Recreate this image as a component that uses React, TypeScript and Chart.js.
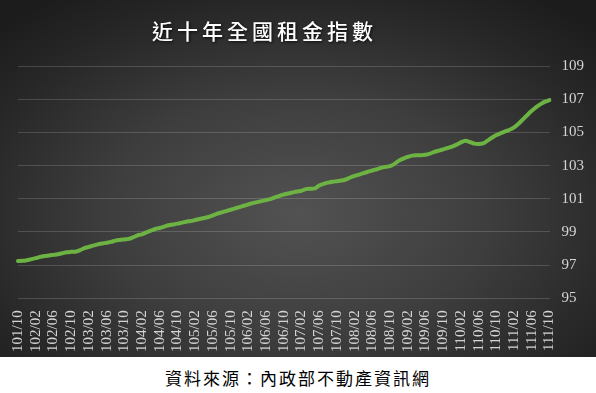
import React, { useEffect, useRef } from "react";
import { Chart, registerables } from "chart.js";

Chart.register(...registerables);

const chartTitle = "近十年全國租金指數";
const sourceNote = "資料來源：內政部不動產資訊網";

// monthly periods (ROC year / month), 101/10 .. 111/10
const months: string[] = [];
for (let y = 101, m = 10; months.length < 121; ) {
  months.push(`${y}/${String(m).padStart(2, "0")}`);
  m++;
  if (m > 12) { m = 1; y++; }
}

const rentIndex = [
  97.25, 97.26, 97.30, 97.36, 97.42, 97.50, 97.55, 97.58, 97.62, 97.66, 97.72, 97.78, 97.80,
  97.81, 97.90, 98.02, 98.10, 98.18, 98.25, 98.30, 98.35, 98.40, 98.48, 98.52, 98.55, 98.58,
  98.68, 98.80, 98.86, 98.98, 99.08, 99.18, 99.24, 99.32, 99.40, 99.45, 99.50, 99.56, 99.62,
  99.66, 99.72, 99.78, 99.84, 99.90, 100.00, 100.10, 100.18, 100.26, 100.34, 100.42, 100.50,
  100.58, 100.66, 100.74, 100.80, 100.86, 100.92, 100.98, 101.08, 101.18, 101.26, 101.32,
  101.38, 101.44, 101.48, 101.58, 101.60, 101.62, 101.80, 101.90, 101.97, 102.02, 102.06,
  102.10, 102.16, 102.28, 102.38, 102.46, 102.55, 102.63, 102.70, 102.78, 102.86, 102.92,
  102.97, 103.10, 103.30, 103.42, 103.52, 103.60, 103.62, 103.62, 103.65, 103.72, 103.82,
  103.90, 103.98, 104.06, 104.14, 104.26, 104.40, 104.50, 104.42, 104.32, 104.30, 104.34,
  104.50, 104.68, 104.84, 104.95, 105.06, 105.16, 105.30, 105.52, 105.78, 106.05, 106.30,
  106.52, 106.70, 106.85, 106.95,
];

const yMin = 95;
const yMax = 109;
const yStep = 2;
const labelEvery = 4;

export default function App() {
  const ref = useRef<HTMLCanvasElement | null>(null);

  useEffect(() => {
    document.body.style.margin = "0";
    const canvas = ref.current;
    if (!canvas) return;
    const chart = new Chart(canvas, {
      type: "line",
      data: {
        labels: months,
        datasets: [
          {
            data: rentIndex,
            borderColor: "#6cb344",
            borderWidth: 4,
            pointRadius: 0,
            tension: 0.3,
            borderCapStyle: "round",
            borderJoinStyle: "round",
          },
        ],
      },
      options: {
        responsive: false,
        animation: false,
        layout: { padding: { top: 66, left: 18, right: 0, bottom: 1 } },
        plugins: { legend: { display: false }, tooltip: { enabled: false }, title: { display: false } },
        scales: {
          x: {
            offset: false,
            grid: { display: false },
            border: { display: false },
            ticks: {
              autoSkip: false,
              minRotation: 90,
              maxRotation: 90,
              padding: 4,
              color: "#d4d4d4",
              font: { family: "'Liberation Serif', serif", size: 15 },
              callback: (_v: any, i: number) => (i % labelEvery === 0 ? months[i] : null),
            },
          },
          y: {
            position: "right",
            min: yMin,
            max: yMax,
            grid: { color: "rgba(255,255,255,0.16)", lineWidth: 1, drawTicks: false },
            border: { display: false },
            ticks: {
              stepSize: yStep,
              padding: 12,
              color: "#d4d4d4",
              font: { family: "'Liberation Serif', serif", size: 15 },
            },
          },
        },
      },
    });
    return () => chart.destroy();
  }, []);

  return (
    <div style={{ width: 596, height: 393, background: "#ffffff", position: "relative" }}>
      <div
        style={{
          position: "absolute",
          left: 0,
          top: 0,
          width: 596,
          height: 357,
          background:
            "radial-gradient(ellipse 70% 75% at 50% 60%, #525252 0%, #3e3e3e 45%, #272727 80%, #1c1c1c 100%)",
        }}
      >
        <canvas ref={ref} width={596} height={357} style={{ display: "block" }} />
        <div
          style={{
            position: "absolute",
            top: 15,
            left: 152,
            width: 200,
            textAlign: "center",
            whiteSpace: "nowrap",
            color: "#ffffff",
            fontFamily: "'Noto Sans CJK TC', serif",
            fontSize: 21,
            fontWeight: 500,
            letterSpacing: 4,
            textShadow: "1px 1px 3px rgba(0,0,0,0.8)",
          }}
        >
          {chartTitle}
        </div>
      </div>
      <div
        style={{
          position: "absolute",
          top: 367,
          left: 0,
          width: 596,
          textAlign: "center",
          color: "#000000",
          fontFamily: "'Noto Sans CJK TC', serif",
          fontSize: 17,
          letterSpacing: 2,
          lineHeight: "22px",
        }}
      >
        {sourceNote}
      </div>
    </div>
  );
}
